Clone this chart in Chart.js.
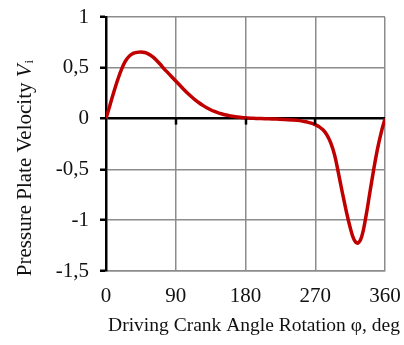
<!DOCTYPE html>
<html>
<head>
<meta charset="utf-8">
<script src="https://cdn.jsdelivr.net/npm/chart.js@4"></script>
<style>
  html, body { margin: 0; padding: 0; background: #fff; }
  #wrap { width: 404px; height: 345px; }
</style>
</head>
<body>
<div id="wrap"><canvas id="velChart" width="404" height="345"></canvas></div>
<script>
// crank angle (deg) and pressure plate velocity
const angles = [0, 5, 10, 15, 20, 25, 30, 35, 40, 45, 50, 55, 60, 65, 70, 75, 80, 85, 90,
                95, 100, 105, 110, 115, 120, 125, 130, 135, 140, 145, 150, 155, 160, 165, 170, 175, 180,
                190, 200, 210, 220, 230, 240, 250, 255, 260, 265, 270,
                275, 280, 285, 290, 295, 300, 305, 310, 315, 320, 325, 330, 335, 340, 345, 350, 355, 360];
const velocity = [0, 0.13, 0.26, 0.38, 0.485, 0.565, 0.615, 0.642, 0.652, 0.655, 0.65, 0.635, 0.61, 0.575, 0.535, 0.49, 0.45, 0.41, 0.37,
                  0.33, 0.29, 0.252, 0.217, 0.185, 0.156, 0.13, 0.107, 0.087, 0.07, 0.056, 0.045, 0.035, 0.027, 0.02, 0.015, 0.011, 0.008,
                  0.003, 0, -0.002, -0.005, -0.008, -0.013, -0.02, -0.027, -0.035, -0.045, -0.06,
                  -0.08, -0.11, -0.16, -0.24, -0.36, -0.54, -0.73, -0.91, -1.07, -1.19, -1.225, -1.16, -0.98, -0.75, -0.52, -0.31, -0.14, 0];
const xTicks = [0, 90, 180, 270, 360];
const yTicks = [1, 0.5, 0, -0.5, -1, -1.5];

const FONT = 'Liberation Serif';
const GRID = '#8c8c8c';

const points = angles.map((a, i) => ({x: a, y: velocity[i]}));

function noPad(s) {
  s.paddingLeft = 0; s.paddingRight = 0; s.paddingTop = 0; s.paddingBottom = 0;
}

// zero line tick marks + axis titles
const extras = {
  id: 'extras',
  afterDraw(chart) {
    const c = chart.ctx;
    const xs = chart.scales.x, ys = chart.scales.y;
    const y0 = ys.getPixelForValue(0);
    c.save();
    c.strokeStyle = '#000';
    c.lineWidth = 2.5;
    xTicks.slice(1, -1).forEach(v => {
      const px = Math.round(xs.getPixelForValue(v));
      c.beginPath();
      c.moveTo(px, y0);
      c.lineTo(px, y0 + 6);
      c.stroke();
    });
    c.fillStyle = '#111';
    c.textBaseline = 'middle';
    // x title
    c.font = '19.5px "' + FONT + '"';
    c.textAlign = 'center';
    c.fillText('Driving Crank Angle Rotation φ, deg', 254, 326);
    // y title, rotated, with italic V and subscript i
    c.translate(25, 168);
    c.rotate(-Math.PI / 2);
    const a = 'Pressure Plate Velocity ';
    c.font = '21px "' + FONT + '"';
    const wa = c.measureText(a).width;
    c.font = 'italic 21px "' + FONT + '"';
    const wv = c.measureText('V').width;
    c.font = '13px "' + FONT + '"';
    const wi = c.measureText('i').width;
    let x = -(wa + wv + wi + 1) / 2;
    c.textAlign = 'left';
    c.font = '21px "' + FONT + '"';
    c.fillText(a, x, 0);
    x += wa;
    c.font = 'italic 21px "' + FONT + '"';
    c.fillText('V', x, 0);
    x += wv + 1;
    c.font = '13px "' + FONT + '"';
    c.fillText('i', x, 5);
    c.restore();
  }
};

new Chart(document.getElementById('velChart'), {
  type: 'line',
  data: {
    datasets: [{
      data: points,
      borderColor: '#c00000',
      borderWidth: 3.5,
      pointRadius: 0,
      tension: 0.4,
      fill: false
    }]
  },
  options: {
    responsive: false,
    animation: false,
    layout: { padding: { left: 0, right: 19, top: 17, bottom: 0 } },
    plugins: { legend: { display: false }, tooltip: { enabled: false } },
    scales: {
      x: {
        type: 'linear',
        min: 0, max: 360,
        afterBuildTicks: s => { s.ticks = xTicks.map(v => ({value: v})); },
        afterFit: s => { s.height = 74; noPad(s); },
        grid: { color: GRID, lineWidth: 1.5, drawTicks: false },
        border: { color: GRID, width: 1.5 },
        ticks: { color: '#111', font: { family: FONT, size: 21 }, padding: 13, maxRotation: 0 }
      },
      y: {
        min: -1.5, max: 1,
        afterBuildTicks: s => { s.ticks = yTicks.map(v => ({value: v})); },
        afterFit: s => { s.width = 106; noPad(s); },
        grid: {
          color: ctx => ctx.tick && ctx.tick.value === 0 ? '#000' : GRID,
          lineWidth: ctx => ctx.tick && ctx.tick.value === 0 ? 2.5 : 1.5,
          drawTicks: true, tickLength: 6, tickColor: '#000', tickWidth: 2.5
        },
        border: { color: '#000', width: 2.5 },
        ticks: {
          color: '#111', font: { family: FONT, size: 21 }, padding: 11,
          callback: v => String(v).replace('.', ',')
        }
      }
    }
  },
  plugins: [extras]
});
</script>
</body>
</html>
